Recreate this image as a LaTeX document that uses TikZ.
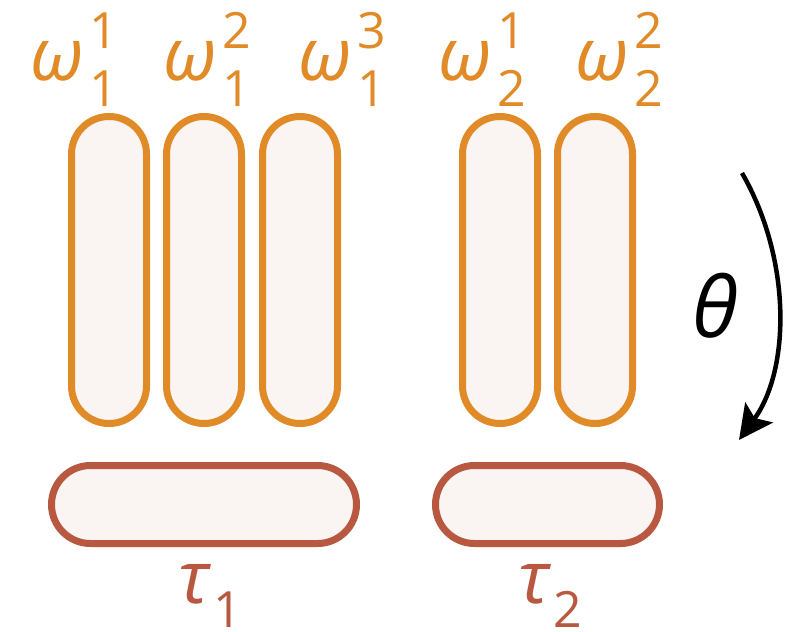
\documentclass[tikz,border=0pt]{standalone}
\usepackage{fontspec}
\setmainfont{Open Sans}
\usetikzlibrary{arrows.meta}
\definecolor{wcol}{RGB}{224,138,40}
\definecolor{tcol}{RGB}{185,88,64}
\definecolor{pillfill}{RGB}{250,244,242}
% letter with stacked upright superscript and subscript
\newcommand\stacked[3]{\fontsize{73}{73}\selectfont\itshape #1\upshape\fontsize{50}{50}\selectfont\kern6pt\rlap{\raisebox{32pt}{#2}}\raisebox{-26pt}{#3}}
\newcommand\lowered[2]{\fontsize{73}{73}\selectfont\itshape #1\upshape\fontsize{50}{50}\selectfont\kern4pt\raisebox{-24pt}{#2}}
\begin{document}
\begin{tikzpicture}[x=1pt,y=-1pt,
  wpill/.style={draw=wcol,fill=pillfill,line width=7pt,rounded corners=37.5pt,
    minimum width=75pt,minimum height=307pt,inner sep=0pt,outer sep=0pt},
  tpill/.style={draw=tcol,fill=pillfill,line width=7pt,rounded corners=39pt,
    minimum height=78pt,inner sep=0pt,outer sep=0pt},
  wlbl/.style={text=wcol,anchor=base west,inner sep=0pt},
  tlbl/.style={text=tcol,anchor=base west,inner sep=0pt}]
\useasboundingbox (0,0) rectangle (793,632);
% worker pills
\node[wpill] (w11) at (109,270) {};
\node[wpill] (w12) at (204,270) {};
\node[wpill] (w13) at (300,270) {};
\node[wpill] (w21) at (500,270) {};
\node[wpill] (w22) at (595,270) {};
% task pills
\node[tpill,minimum width=305pt] (t1) at (204,504.5) {};
\node[tpill,minimum width=224pt] (t2) at (547.5,504.5) {};
% labels
\node[wlbl] (l11) at (30,80) {\stacked{ω}{1}{1}};
\node[wlbl] (l12) at (163,80) {\stacked{ω}{2}{1}};
\node[wlbl] (l13) at (298,80) {\stacked{ω}{3}{1}};
\node[wlbl] (l21) at (438,80) {\stacked{ω}{1}{2}};
\node[wlbl] (l22) at (575,80) {\stacked{ω}{2}{2}};
\node[tlbl] (lt1) at (178,603) {\lowered{τ}{1}};
\node[tlbl] (lt2) at (518,603) {\lowered{τ}{2}};
% rotation arrow
\coordinate (as) at (742,173);
\coordinate (ae) at (739,440);
\draw[line width=4.5pt,-{Stealth[length=34pt,width=34pt,inset=7pt]}]
  (as) .. controls (792,260) and (790,370) .. (ae);
\node[inner sep=0pt,anchor=base west] (th) at (692,337) {\fontsize{84}{84}\selectfont\itshape θ};
\end{tikzpicture}
\end{document}
